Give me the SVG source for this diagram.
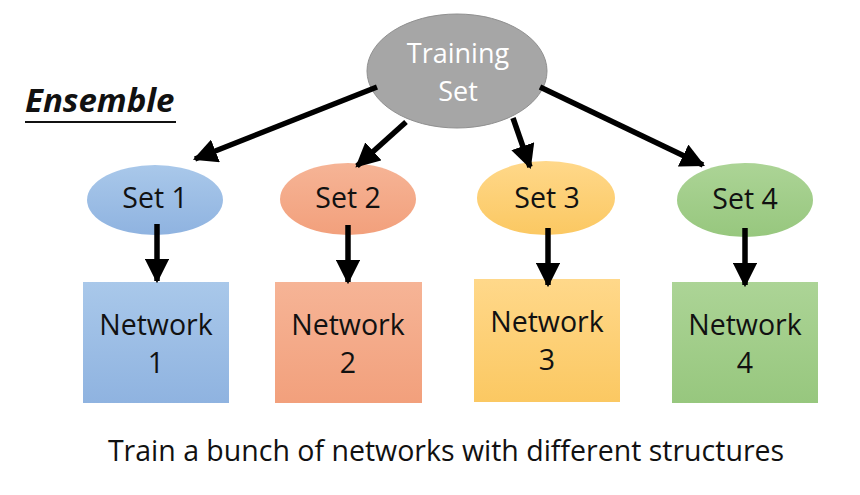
<svg xmlns="http://www.w3.org/2000/svg" width="860" height="495" viewBox="0 0 860 495">
<defs>
<linearGradient id="gBlue" x1="0" y1="0" x2="0" y2="1"><stop offset="0" stop-color="#a9c8ea"/><stop offset="1" stop-color="#8fb3e0"/></linearGradient>
<linearGradient id="gOrange" x1="0" y1="0" x2="0" y2="1"><stop offset="0" stop-color="#f6b496"/><stop offset="1" stop-color="#f2a07c"/></linearGradient>
<linearGradient id="gYellow" x1="0" y1="0" x2="0" y2="1"><stop offset="0" stop-color="#ffd88a"/><stop offset="1" stop-color="#fbc862"/></linearGradient>
<linearGradient id="gGreen" x1="0" y1="0" x2="0" y2="1"><stop offset="0" stop-color="#acd496"/><stop offset="1" stop-color="#97c77e"/></linearGradient>
<marker id="ah" markerWidth="4.4" markerHeight="4.4" refX="4" refY="2.2" orient="auto" markerUnits="strokeWidth"><path d="M0,0 L4.4,2.2 L0,4.4 Z" fill="#000"/></marker>
</defs>
<style>
text{font-family:"Open Sans","Noto Sans","Liberation Sans",sans-serif;text-anchor:middle;fill:#111}
.lbl{font-size:28.5px}
.wt{fill:#fff;font-size:27px}
.conn line{stroke:#000;stroke-width:5.5;marker-end:url(#ah)}
</style>
<rect width="860" height="495" fill="#fff"/>
<g id="title">
<text x="25" y="112" style="text-anchor:start;font-weight:bold;font-style:italic;font-size:33px">Ensemble</text>
<line x1="25" y1="122" x2="176" y2="122" stroke="#111" stroke-width="2"/>
</g>
<g id="training">
<ellipse cx="457" cy="71" rx="90" ry="57" fill="#a6a6a6" stroke="#909090" stroke-width="1"/>
<text class="wt" x="458" y="63">Training</text>
<text class="wt" x="458" y="101">Set</text>
</g>
<g id="set1"><ellipse cx="155" cy="200" rx="68" ry="35" fill="url(#gBlue)"/><text class="lbl" x="155" y="208">Set 1</text></g>
<g id="set2"><ellipse cx="348" cy="199" rx="68" ry="36" fill="url(#gOrange)"/><text class="lbl" x="348" y="208">Set 2</text></g>
<g id="set3"><ellipse cx="546" cy="198" rx="69" ry="37" fill="url(#gYellow)"/><text class="lbl" x="547" y="208">Set 3</text></g>
<g id="set4"><ellipse cx="745" cy="200" rx="68" ry="37" fill="url(#gGreen)"/><text class="lbl" x="745" y="209">Set 4</text></g>
<g id="net1"><rect x="83" y="282" width="146" height="121" fill="url(#gBlue)"/><text class="lbl" x="156" y="335">Network</text><text class="lbl" x="156" y="373">1</text></g>
<g id="net2"><rect x="275" y="282" width="147" height="121" fill="url(#gOrange)"/><text class="lbl" x="348" y="335">Network</text><text class="lbl" x="348" y="373">2</text></g>
<g id="net3"><rect x="474" y="279" width="146" height="123" fill="url(#gYellow)"/><text class="lbl" x="547" y="332">Network</text><text class="lbl" x="547" y="370">3</text></g>
<g id="net4"><rect x="672" y="282" width="146" height="121" fill="url(#gGreen)"/><text class="lbl" x="745" y="335">Network</text><text class="lbl" x="745" y="373">4</text></g>
<g id="connectors" class="conn">
<line x1="377" y1="87" x2="195" y2="159"/>
<line x1="406" y1="122" x2="357" y2="166"/>
<line x1="513" y1="118" x2="530" y2="167"/>
<line x1="540" y1="87" x2="703" y2="165"/>
<line x1="157" y1="224" x2="157" y2="281"/>
<line x1="348" y1="225" x2="348" y2="282"/>
<line x1="548" y1="228" x2="548" y2="285"/>
<line x1="745" y1="228" x2="745" y2="285"/>
</g>
<text id="caption" x="446" y="461" style="font-size:28.5px">Train a bunch of networks with different structures</text>
</svg>
